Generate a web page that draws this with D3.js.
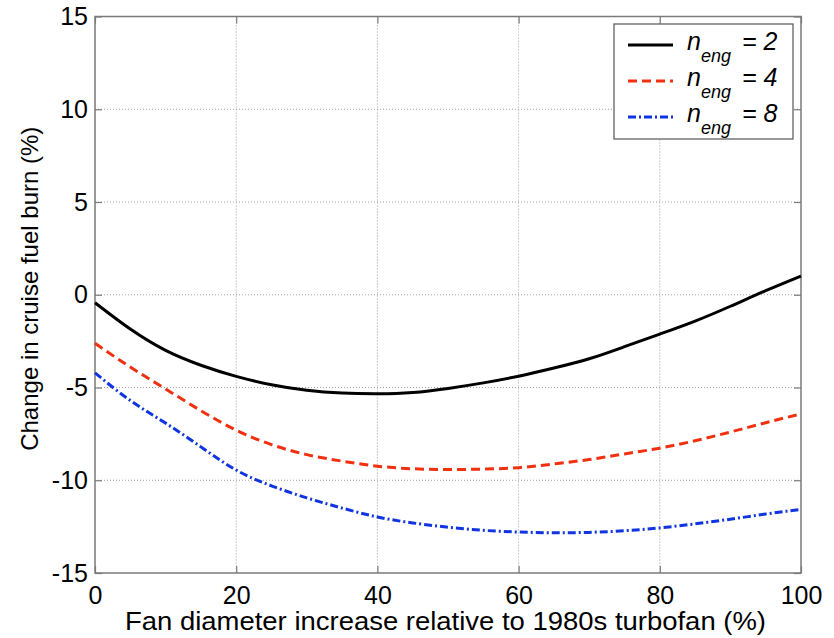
<!DOCTYPE html>
<html>
<head>
<meta charset="utf-8">
<script src="https://cdn.jsdelivr.net/npm/d3@7"></script>
<style>
  body { margin: 0; background: #fff; }
  text { font-family: "Liberation Sans", Arial, sans-serif; }
</style>
</head>
<body>
<svg id="chart" width="834" height="638"></svg>
<script>
// fan diameter increase (%)
var fanDiameter = [0, 5, 10, 15, 20, 25, 30, 35, 40, 45, 50, 55, 60, 65, 70, 75, 80, 85, 90, 95, 100];
// change in cruise fuel burn (%) for each engine count
var fuelEng2 = [-0.43, -1.85, -3.0, -3.8, -4.4, -4.85, -5.15, -5.3, -5.34, -5.27, -5.05, -4.75, -4.39, -3.95, -3.45, -2.8, -2.12, -1.42, -0.62, 0.22, 1.01];
var fuelEng4 = [-2.62, -3.9, -5.08, -6.25, -7.3, -8.08, -8.62, -8.97, -9.24, -9.38, -9.42, -9.4, -9.32, -9.12, -8.88, -8.58, -8.27, -7.87, -7.4, -6.9, -6.42];
var fuelEng8 = [-4.21, -5.7, -6.92, -8.2, -9.45, -10.3, -10.95, -11.5, -11.98, -12.3, -12.53, -12.7, -12.79, -12.83, -12.81, -12.72, -12.57, -12.35, -12.1, -11.82, -11.57];
var engCounts = ["2", "4", "8"];
var xTicks = [0, 20, 40, 60, 80, 100];
var yTicks = [-15, -10, -5, 0, 5, 10, 15];

var margin = {top: 16.5, right: 33, bottom: 65, left: 95};
var width = 834 - margin.left - margin.right;
var height = 638 - margin.top - margin.bottom;

var svg = d3.select("#chart");
var g = svg.append("g")
    .attr("transform", "translate(" + margin.left + "," + margin.top + ")");

var x = d3.scaleLinear().domain([0, 100]).range([0, width]);
var y = d3.scaleLinear().domain([-15, 15]).range([height, 0]);

// matlab style labels use a plain hyphen
var fmt = function(d) { return String(d); };

// dotted grid
g.append("g").selectAll("line")
  .data(xTicks.slice(1, -1))
  .enter().append("line")
  .attr("x1", function(d) { return x(d); })
  .attr("x2", function(d) { return x(d); })
  .attr("y1", 0).attr("y2", height)
  .attr("stroke", "#a0a0a0").attr("stroke-width", 1).attr("stroke-dasharray", "1,2");

g.append("g").selectAll("line")
  .data(yTicks.slice(1, -1))
  .enter().append("line")
  .attr("y1", function(d) { return y(d); })
  .attr("y2", function(d) { return y(d); })
  .attr("x1", 0).attr("x2", width)
  .attr("stroke", "#a0a0a0").attr("stroke-width", 1).attr("stroke-dasharray", "1,2");

// axes, ticks pointing inward
var axisColor = "#7a7a7a";
function styleAxis(sel) {
  sel.select(".domain").remove();
  sel.selectAll(".tick line").attr("stroke", axisColor).attr("stroke-width", 1.2);
  sel.selectAll(".tick text")
    .attr("fill", "#000")
    .style("font-size", "25px")
    .style("font-family", "Liberation Sans, Arial, sans-serif");
}

g.append("g")
  .attr("transform", "translate(0," + height + ")")
  .call(d3.axisBottom(x).tickValues(xTicks).tickFormat(fmt).tickSize(-7).tickPadding(13))
  .call(styleAxis);

g.append("g")
  .call(d3.axisTop(x).tickValues(xTicks).tickSize(-7).tickFormat(""))
  .call(styleAxis);

g.append("g")
  .call(d3.axisLeft(y).tickValues(yTicks).tickFormat(fmt).tickSize(-7).tickPadding(7))
  .call(styleAxis);

g.append("g")
  .attr("transform", "translate(" + width + ",0)")
  .call(d3.axisRight(y).tickValues(yTicks).tickSize(-7).tickFormat(""))
  .call(styleAxis);

g.append("rect")
  .attr("width", width).attr("height", height)
  .attr("fill", "none").attr("stroke", axisColor).attr("stroke-width", 1.5);

// curves
var series = [
  {vals: fuelEng2, color: "#000000", dash: null},
  {vals: fuelEng4, color: "#f0300f", dash: "9,5"},
  {vals: fuelEng8, color: "#1035e0", dash: "8,3,2,3"}
];

var line = d3.line()
  .x(function(d) { return x(d[0]); })
  .y(function(d) { return y(d[1]); })
  .curve(d3.curveNatural);

series.forEach(function(s) {
  g.append("path")
    .datum(fanDiameter.map(function(f, i) { return [f, s.vals[i]]; }))
    .attr("fill", "none")
    .attr("stroke", s.color)
    .attr("stroke-width", 3)
    .attr("stroke-dasharray", s.dash)
    .attr("d", line);
});

// axis labels
svg.append("text")
  .attr("x", 125)
  .attr("y", 630)
  .attr("textLength", 641)
  .attr("lengthAdjust", "spacingAndGlyphs")
  .style("font-size", "25px")
  .text("Fan diameter increase relative to 1980s turbofan (%)");

svg.append("text")
  .attr("transform", "translate(38," + (margin.top + height / 2 - 6) + ") rotate(-90)")
  .attr("text-anchor", "middle")
  .style("font-size", "24px")
  .text("Change in cruise fuel burn (%)");

// legend
var legend = svg.append("g");
legend.append("rect")
  .attr("x", 614).attr("y", 24).attr("width", 179).attr("height", 115)
  .attr("fill", "#fff").attr("stroke", "#555").attr("stroke-width", 1.2);

series.forEach(function(s, i) {
  var ly = 45 + i * 36;
  legend.append("line")
    .attr("x1", 628).attr("x2", 673)
    .attr("y1", ly).attr("y2", ly)
    .attr("stroke", s.color).attr("stroke-width", 3)
    .attr("stroke-dasharray", s.dash);
  var t = legend.append("text")
    .attr("y", ly + 5)
    .style("font-style", "italic")
    .style("font-size", "25px");
  t.append("tspan").attr("x", 687).text("n");
  t.append("tspan").attr("x", 701).attr("dy", 12).style("font-size", "18px").text("eng");
  t.append("tspan").attr("x", 742).attr("dy", -12).text("= " + engCounts[i]);
});
</script>
</body>
</html>
